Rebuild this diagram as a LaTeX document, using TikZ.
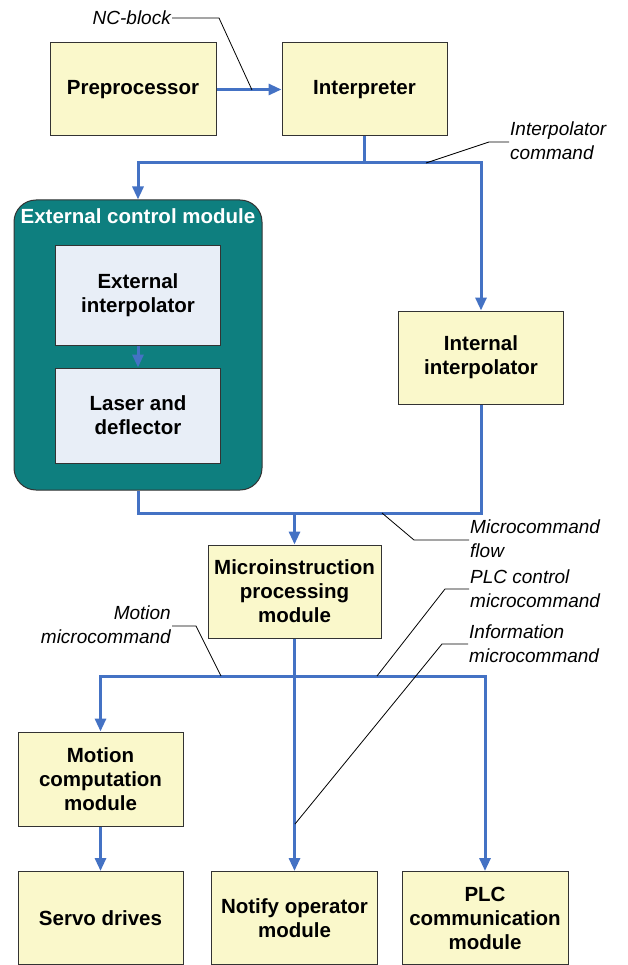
\documentclass[tikz,border=0pt]{standalone}
\usepackage{fontspec}
\setmainfont{Liberation Sans}
\usetikzlibrary{arrows.meta}
\definecolor{boxyellow}{HTML}{FAF8CB}
\definecolor{flowblue}{HTML}{4472C4}
\definecolor{tealmod}{HTML}{0E7F7F}
\definecolor{innerbox}{HTML}{E8EEF7}
\definecolor{edgegrey}{HTML}{333333}
\tikzset{
  ybox/.style={draw=edgegrey, line width=1pt, fill=boxyellow, align=center,
    font=\fontsize{20.5}{24}\selectfont\bfseries, inner sep=2pt},
  ibox/.style={ybox, fill=innerbox},
  flow/.style={draw=flowblue, line width=3pt},
  flowarrow/.style={flow, -{Triangle[length=13pt,width=11pt]}},
  leader/.style={draw=black, line width=0.8pt},
  lbl/.style={font=\fontsize{19}{24}\selectfont\itshape, inner sep=1pt},
}
\begin{document}
\begin{tikzpicture}[x=1pt,y=-1pt]
\useasboundingbox (0,0) rectangle (627,965);
% boxes
\node[ybox, minimum width=166pt, minimum height=93pt] (pre) at (133,89.5) {Preprocessor};
\node[ybox, minimum width=165pt, minimum height=93pt] (interp) at (364.5,89.5) {Interpreter};
\node[draw=edgegrey, line width=1pt, fill=tealmod, rounded corners=22pt,
      minimum width=248pt, minimum height=290pt] (ecm) at (138,345) {};
\node[font=\fontsize{20.5}{24}\selectfont\bfseries, text=white, inner sep=0pt] (ecmtitle) at (138,216) {External control module};
\node[ibox, minimum width=165pt, minimum height=99pt] (extint) at (138,295.5) {External\\interpolator};
\node[ibox, minimum width=165pt, minimum height=95pt] (laser) at (138,415.5) {Laser and\\deflector};
\node[ybox, minimum width=165pt, minimum height=93pt] (intint) at (481,357.5) {Internal\\interpolator};
\node[ybox, minimum width=173pt, minimum height=93pt] (micro) at (294.5,591.5) {Microinstruction\\processing\\module};
\node[ybox, minimum width=165pt, minimum height=94pt] (motion) at (100.5,779) {Motion\\computation\\module};
\node[ybox, minimum width=165pt, minimum height=93pt] (servo) at (100.5,918) {Servo drives};
\node[ybox, minimum width=166pt, minimum height=93pt] (notify) at (294.5,918) {Notify operator\\module};
\node[ybox, minimum width=166pt, minimum height=93pt] (plc) at (485,918) {PLC\\communication\\module};
% junctions
\coordinate (j1) at (364.5,163);
\coordinate (j2) at (294.5,513);
\coordinate (j3) at (294.5,676);
% flows
\draw[flowarrow] (pre.east) -- (interp.west);
\draw[flow] (interp.south) -- (j1);
\draw[flowarrow] (j1) -| (ecm.north);
\draw[flowarrow] (j1) -| (intint.north);
\draw[flowarrow] (extint.south) -- (laser.north);
\draw[flow] (ecm.south) |- (j2);
\draw[flow] (intint.south) |- (j2);
\draw[flowarrow] (j2) -- (micro.north);
\draw[flowarrow] (micro.south) -- (notify.north);
\draw[flowarrow] (j3) -| (motion.north);
\draw[flowarrow] (j3) -| (plc.north);
\draw[flowarrow] (motion.south) -- (servo.north);
% labels
\node[lbl, anchor=east] (nclbl) at (172,18) {NC-block};
\coordinate (ncend) at (252,90);
\draw[leader] (nclbl.east) -- (219,18) -- (ncend);
\node[lbl, anchor=west, align=left] (iclbl) at (509,140.5) {Interpolator\\command};
\coordinate (icend) at (426,163);
\draw[leader] (iclbl.west |- 0,142) -- (489,142) -- (icend);
\node[lbl, anchor=west, align=left] (mflbl) at (469,538.5) {Microcommand\\flow};
\coordinate (mfend) at (382,513);
\draw[leader] (mflbl.west |- 0,540) -- (414,540) -- (mfend);
\node[lbl, anchor=west, align=left] (plclbl) at (469,588.5) {PLC control\\microcommand};
\coordinate (plcend) at (377,676);
\draw[leader] (plclbl.west |- 0,589) -- (445,589) -- (plcend);
\node[lbl, anchor=west, align=left] (inflbl) at (468,644) {Information\\microcommand};
\coordinate (infend) at (295,824);
\draw[leader] (inflbl.west |- 0,644) -- (442,644) -- (infend);
\node[lbl, anchor=east, align=right] (motlbl) at (172,625) {Motion\\microcommand};
\coordinate (motend) at (221,676);
\draw[leader] (motlbl.east |- 0,626) -- (196,626) -- (motend);
\end{tikzpicture}
\end{document}
